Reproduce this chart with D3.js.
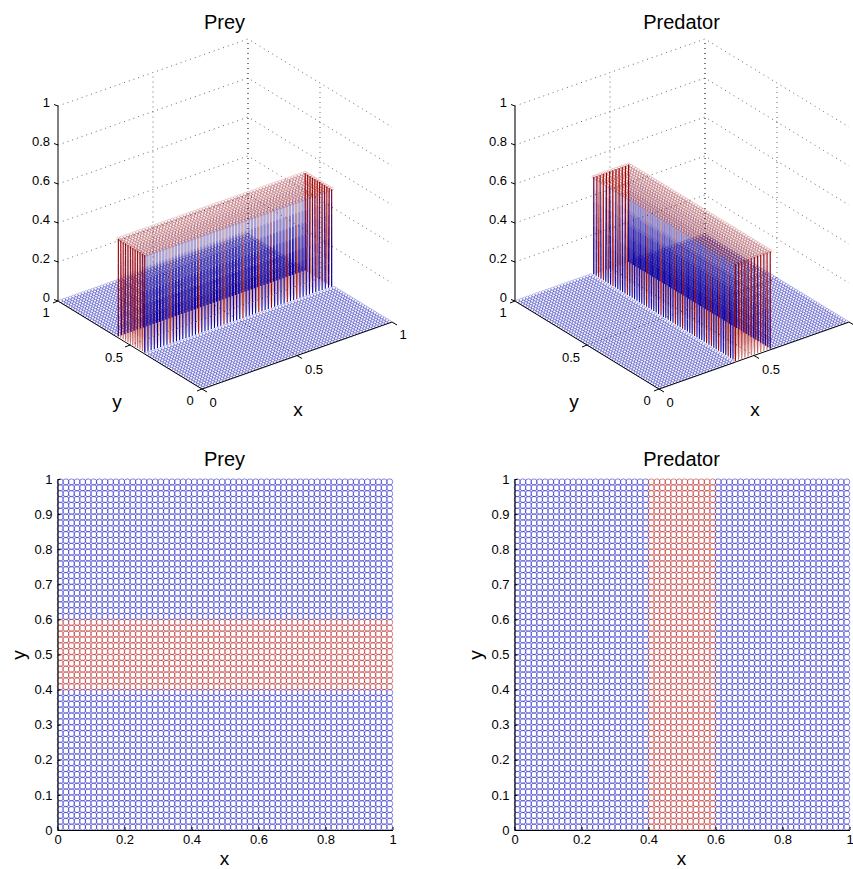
<!DOCTYPE html>
<meta charset="utf-8">
<style>
  body { margin: 0; background: #fff; }
  text { font-family: "Liberation Sans", Arial, sans-serif; fill: #000; }
  .soft { filter: blur(0.35px); }
</style>
<svg width="853" height="869"></svg>
<script src="https://d3js.org/d3.v7.min.js"></script>
<script>
// cell centres of the mesh the model was solved on
const gridCoords = [0.0083,0.025,0.0417,0.0583,0.075,0.0917,0.1083,0.125,0.1417,0.1583,0.175,0.1917,0.2083,0.225,0.2417,0.2583,0.275,0.2917,0.3083,0.325,0.3417,0.3583,0.375,0.3917,0.4083,0.425,0.4417,0.4583,0.475,0.4917,0.5083,0.525,0.5417,0.5583,0.575,0.5917,0.6083,0.625,0.6417,0.6583,0.675,0.6917,0.7083,0.725,0.7417,0.7583,0.775,0.7917,0.8083,0.825,0.8417,0.8583,0.875,0.8917,0.9083,0.925,0.9417,0.9583,0.975,0.9917]
const bandLimits = [0.4, 0.6]
const bandRows = [0.4083, 0.5917]
const meshEnds = [0.0083, 0.9917]
const bandLevel = 0.5
const zTicks = [0, 0.2, 0.4, 0.6, 0.8, 1]
const floorTicks = [0, 0.5, 1]
const xTicks2d = [0, 0.2, 0.4, 0.6, 0.8, 1]
const yTicks2d = [0, 0.1, 0.2, 0.3, 0.4, 0.5, 0.6, 0.7, 0.8, 0.9, 1]
// the stems on the front row that came out red
const preyRedStems = [0.1417, 0.2917, 0.425, 0.525, 0.6083, 0.675, 0.7583, 0.8083]
const predatorRedStems = [0.0083, 0.0583, 0.125, 0.175, 0.2083, 0.2917, 0.375, 0.425, 0.525, 0.625, 0.7583, 0.8583, 0.925, 0.9583]
// how strong each stem is going up from the floor, one value per piece
const stemLevels = [0, 0.0625, 0.125, 0.1875, 0.25, 0.3125, 0.375, 0.4375, 0.5]
const backFade = [1, 0.95, 0.85, 0.65, 0.45, 0.3, 0.2, 0.12]
const frontFade = [1, 1, 0.95, 0.85, 0.7, 0.6, 0.45, 0.3]
const innerFade = [0.15, 0.12, 0.08, 0.06, 0.04, 0.04, 0.04, 0.04]
const sideFade = [0.6, 0.7, 0.85, 0.95, 1, 1, 1, 1]

const BLUE = '#0000b0'
const RED = '#a00000'
const svg = d3.select('svg')

const inBand = v => v >= bandLimits[0] && v <= bandLimits[1]
const preyValue = (x, y) => inBand(y) ? bandLevel : 0
const predatorValue = (x, y) => inBand(x) ? bandLevel : 0

function axisText(g, x, y, label, size, anchor) {
  return g.append('text').attr('x', x).attr('y', y).attr('font-size', size)
    .attr('text-anchor', anchor || 'middle').text(label)
}

function draw3d(left, title, value, bandAxis, redStems, zAxisStyle, lastXLabel) {
  const g = svg.append('g').attr('transform', `translate(${left},0)`)

  // oblique view, screen position is the sum of one scale per data axis
  const xToX = d3.scaleLinear().domain([0, 1]).range([202, 392])
  const xToY = d3.scaleLinear().domain([0, 1]).range([389, 322])
  const yToX = d3.scaleLinear().domain([0, 1]).range([0, -144])
  const yToY = d3.scaleLinear().domain([0, 1]).range([0, -88])
  const zToY = d3.scaleLinear().domain([0, 1]).range([0, -195])
  const px = (x, y) => xToX(x) + yToX(y)
  const py = (x, y, z) => xToY(x) + yToY(y) + zToY(z)

  const points = d3.cross(gridCoords, gridCoords).map(([x, y]) => ({ x, y, z: value(x, y) }))
  const marks = g.append('g').attr('class', 'soft')

  marks.append('g').selectAll('circle')
    .data(points.filter(d => d.z === 0))
    .enter().append('circle')
    .attr('cx', d => px(d.x, d.y))
    .attr('cy', d => py(d.x, d.y, 0))
    .attr('r', 1.7)
    .attr('fill', 'none')
    .attr('stroke', BLUE)
    .attr('stroke-opacity', 0.6)
    .attr('stroke-width', 0.45)

  const band = points.filter(d => d.z > 0)
  const along = d => bandAxis === 'y' ? d.y : d.x
  const across = d => bandAxis === 'y' ? d.x : d.y
  const isFront = d => along(d) === bandRows[0]
  const isBack = d => along(d) === bandRows[1]

  function stems(rows, colour, fade) {
    const pieces = []
    rows.forEach(d => fade.forEach((o, i) => {
      pieces.push({ d, z0: stemLevels[i], z1: stemLevels[i + 1], o, c: colour(d) })
    }))
    marks.append('g').selectAll('line').data(pieces).enter().append('line')
      .attr('x1', p => px(p.d.x, p.d.y))
      .attr('x2', p => px(p.d.x, p.d.y))
      .attr('y1', p => py(p.d.x, p.d.y, p.z0))
      .attr('y2', p => py(p.d.x, p.d.y, p.z1))
      .attr('stroke', p => p.c)
      .attr('stroke-opacity', p => p.o)
      .attr('stroke-width', 1.1)
  }

  const inner = band.filter(d => !isFront(d) && !isBack(d))
  stems(inner.filter(d => !meshEnds.includes(across(d))), () => RED, innerFade)
  stems(band.filter(d => across(d) === meshEnds[1]), () => RED, sideFade)
  stems(band.filter(isBack), () => BLUE, backFade)
  stems(band.filter(d => across(d) === meshEnds[0]), () => RED, sideFade)

  marks.append('g').selectAll('circle')
    .data(band)
    .enter().append('circle')
    .attr('cx', d => px(d.x, d.y))
    .attr('cy', d => py(d.x, d.y, d.z))
    .attr('r', 1.7)
    .attr('fill', 'none')
    .attr('stroke', RED)
    .attr('stroke-opacity', 0.45)
    .attr('stroke-width', 0.45)

  stems(band.filter(isFront), d => redStems.includes(across(d)) ? RED : BLUE, frontFade)

  // dotted box behind the data
  const grid = g.append('g').attr('fill', 'none').attr('stroke', '#000')
    .attr('stroke-width', 0.8).attr('stroke-dasharray', '1 4').attr('stroke-opacity', 0.75)
  const path = pts => 'M' + pts.map(p => [px(p[0], p[1]), py(p[0], p[1], p[2])].join(',')).join('L')
  zTicks.slice(1).forEach(z => grid.append('path').attr('d', path([[0, 1, z], [1, 1, z], [1, 0, z]])))
  floorTicks.slice(1).forEach(t => {
    grid.append('path').attr('d', path([[t, 1, 0], [t, 1, 1]]))
    grid.append('path').attr('d', path([[1, t, 0], [1, t, 1]]))
  })
  floorTicks.slice(1, 2).forEach(t => {
    grid.append('path').attr('d', path([[t, 0, 0], [t, 1, 0]]))
    grid.append('path').attr('d', path([[0, t, 0], [1, t, 0]]))
  })

  // axes
  const axes = g.append('g').attr('fill', 'none').attr('stroke', '#000').attr('stroke-width', 1)
  axes.append('path').attr('d', path([[0, 0, 0], [1, 0, 0]]))
  axes.append('path').attr('d', path([[0, 0, 0], [0, 1, 0]]))
  axes.append('path').attr('d', path([[0, 1, 0], [0, 1, 1]]))
    .attr('stroke', zAxisStyle.colour).attr('stroke-width', zAxisStyle.width)

  zTicks.forEach(z => {
    const x0 = px(0, 1), y0 = py(0, 1, z)
    axes.append('path').attr('d', `M${x0},${y0}L${x0 - 4},${y0 - 1.5}`)
    axisText(g, 50, y0 + 1, z, 13, 'end')
  })
  floorTicks.forEach((t, i) => {
    const x0 = px(t, 0), y0 = py(t, 0, 0)
    axes.append('path').attr('d', `M${x0},${y0}L${x0 + 5},${y0 + 3}`)
    if (t < 1 || lastXLabel) axisText(g, x0 + [11, 17, 11][i], y0 + [18, 18, 17][i], t, 13)
    const x1 = px(0, t), y1 = py(0, t, 0)
    axes.append('path').attr('d', `M${x1},${y1}L${x1 - 5},${y1 + 2}`)
    axisText(g, x1 + [-12, -16, -12][i], y1 + [16, 17, 16][i], t, 13)
  })

  axisText(g, 298, 416, 'x', 19)
  axisText(g, 117, 408, 'y', 19)
  axisText(g, 224.5, 29, title, 20)
}

function draw2d(left, title, value) {
  const g = svg.append('g').attr('transform', `translate(${left},0)`)
  const x = d3.scaleLinear().domain([0, 1]).range([57.5, 392.5])
  const y = d3.scaleLinear().domain([0, 1]).range([830, 479])

  g.append('g').attr('class', 'soft').selectAll('circle')
    .data(d3.cross(gridCoords, gridCoords))
    .enter().append('circle')
    .attr('cx', d => x(d[0]))
    .attr('cy', d => y(d[1]))
    .attr('r', 3.05)
    .attr('fill', 'none')
    .attr('stroke', d => value(d[0], d[1]) > 0 ? '#b00000' : '#0000c0')
    .attr('stroke-opacity', 0.55)
    .attr('stroke-width', 0.9)

  const xAxis = g.append('g').attr('transform', 'translate(0,830)')
    .call(d3.axisBottom(x).tickValues(xTicks2d).tickFormat(d => d).tickSize(-3).tickSizeOuter(0).tickPadding(5))
  const yAxis = g.append('g').attr('transform', 'translate(57.5,0)')
    .call(d3.axisLeft(y).tickValues(yTicks2d).tickFormat(d => d).tickSize(-3).tickSizeOuter(0).tickPadding(5))
  ;[xAxis, yAxis].forEach(a => {
    a.attr('font-family', null).attr('font-size', 13)
    a.select('.domain').attr('stroke-width', 1.2)
  })

  axisText(g, 224.5, 865, 'x', 19)
  g.append('text').attr('transform', 'translate(25,655) rotate(-90)')
    .attr('font-size', 19).attr('text-anchor', 'middle').text('y')
  axisText(g, 224.5, 466, title, 20)
}

draw3d(0, 'Prey', preyValue, 'y', preyRedStems, { colour: '#000', width: 1 }, true)
draw3d(457, 'Predator', predatorValue, 'x', predatorRedStems, { colour: '#555', width: 1.6 }, false)
draw2d(0, 'Prey', preyValue)
draw2d(457, 'Predator', predatorValue)
</script>
